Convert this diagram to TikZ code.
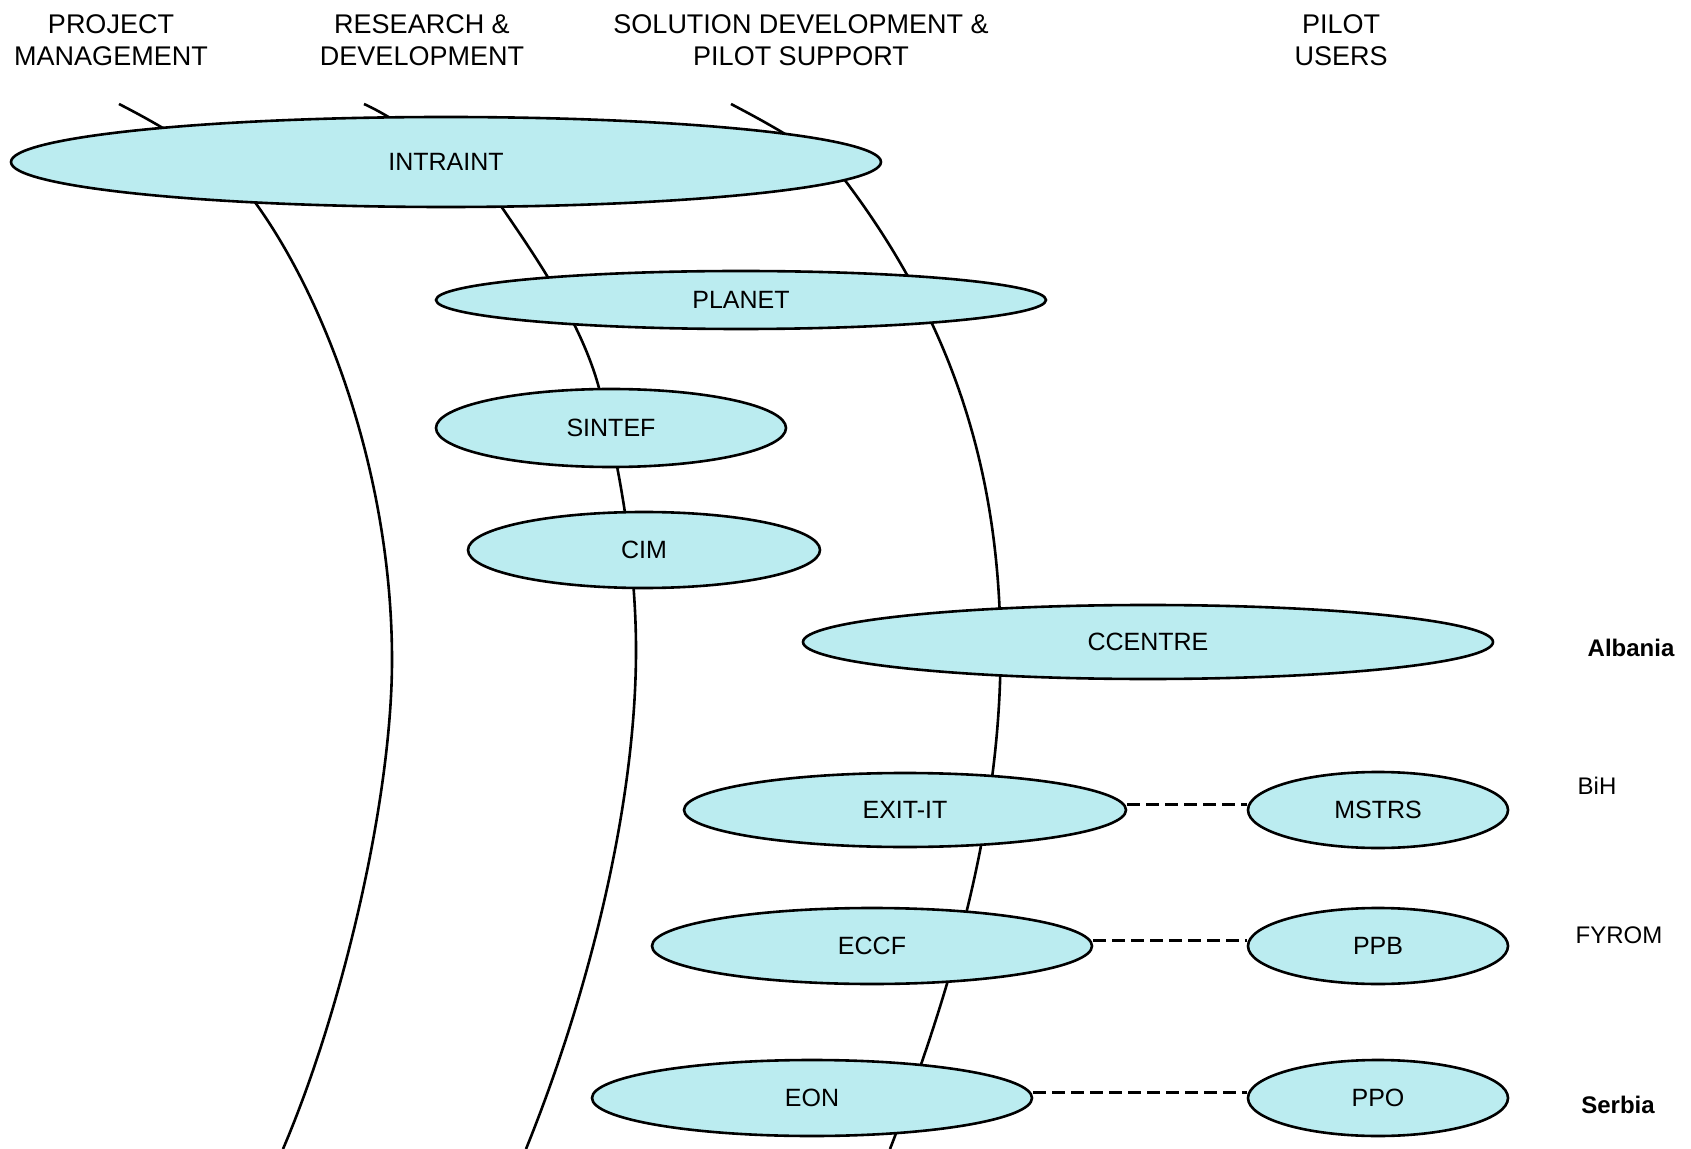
\documentclass[tikz,border=0pt]{standalone}
\usepackage{fontspec}
\setmainfont{Liberation Sans}
\usetikzlibrary{shapes.geometric}
\definecolor{nodefill}{RGB}{187,236,240}
\begin{document}
\begin{tikzpicture}[x=0.5pt,y=-0.5pt,
  org/.style={ellipse, draw=black, line width=1.3pt, fill=nodefill, inner sep=0pt,
    font=\fontsize{12.5}{15}\selectfont},
  head/.style={align=center, inner sep=0pt, font=\fontsize{13.5}{16}\selectfont},
  country/.style={inner sep=0pt, font=\fontsize{12}{14}\selectfont},
  countryb/.style={inner sep=0pt, font=\fontsize{12}{14}\selectfont\bfseries},
  band/.style={line width=1.3pt},
  dashline/.style={line width=1.5pt, dash pattern=on 6.5pt off 3pt}]
\useasboundingbox (0,0) rectangle (1691,1149);

% column headers
\node[head] (hpm) at (111,40) {PROJECT\\MANAGEMENT};
\node[head] (hrd) at (422,40) {RESEARCH \&\\DEVELOPMENT};
\node[head] (hsd) at (801,40) {SOLUTION DEVELOPMENT \&\\PILOT SUPPORT};
\node[head] (hpu) at (1341,40) {PILOT\\USERS};

% band curves (behind the ellipses)
\begin{scope}
\clip (0,0) rectangle (1691,1149);
\draw[band] (119,104) .. controls (164,127) and (228,164) .. (257,205)
  .. controls (329,306) and (392,480) .. (392,660)
  .. controls (392,800) and (342,1011) .. (283,1149);
\draw[band] (364,104) .. controls (400,120) and (480,176) .. (503,209)
  .. controls (540,263) and (582,325) .. (599,388)
  .. controls (621,470) and (636,565) .. (636,650)
  .. controls (636,810) and (586,1001) .. (526,1149);
\draw[band] (731,104) .. controls (771,125) and (826,155) .. (847,183)
  .. controls (955,327) and (995,470) .. (1000,620)
  .. controls (1006,790) and (962,963) .. (890,1149);
\end{scope}

% organisations
\node[org, minimum width=435pt, minimum height=45pt] (intraint) at (446,162) {INTRAINT};
\node[org, minimum width=305pt, minimum height=29pt] (planet) at (741,300) {PLANET};
\node[org, minimum width=175pt, minimum height=39pt] (sintef) at (611,428) {SINTEF};
\node[org, minimum width=176pt, minimum height=38pt] (cim) at (644,550) {CIM};
\node[org, minimum width=345pt, minimum height=37pt] (ccentre) at (1148,642) {CCENTRE};
\node[org, minimum width=221pt, minimum height=37pt] (exitit) at (905,810) {EXIT-IT};
\node[org, minimum width=130pt, minimum height=38pt] (mstrs) at (1378,810) {MSTRS};
\node[org, minimum width=220pt, minimum height=38pt] (eccf) at (872,946) {ECCF};
\node[org, minimum width=130pt, minimum height=38pt] (ppb) at (1378,946) {PPB};
\node[org, minimum width=220pt, minimum height=38pt] (eon) at (812,1098) {EON};
\node[org, minimum width=130pt, minimum height=38pt] (ppo) at (1378,1098) {PPO};

% dashed links to pilot users
\draw[dashline] ([yshift=3pt]exitit.east) -- ([yshift=3pt]mstrs.west);
\draw[dashline] ([yshift=3pt]eccf.east) -- ([yshift=3pt]ppb.west);
\draw[dashline] ([yshift=3pt]eon.east) -- ([yshift=3pt]ppo.west);

% countries
\node[countryb] (albania) at (1631,648) {Albania};
\node[country] (bih) at (1597,786) {BiH};
\node[country] (fyrom) at (1619,935) {FYROM};
\node[countryb] (serbia) at (1618,1105) {Serbia};
\end{tikzpicture}
\end{document}
